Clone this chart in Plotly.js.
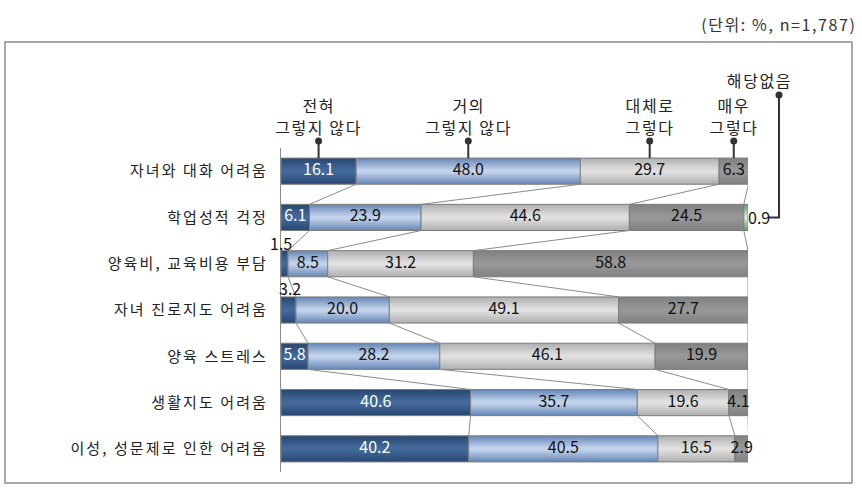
<!DOCTYPE html>
<html><head><meta charset="utf-8">
<script src="https://cdn.plot.ly/plotly-3.0.1.min.js"></script>
<style>
html,body{margin:0;padding:0;background:#fff}
#chart{width:862px;height:496px}
#chart .ytick text{letter-spacing:2.1px}
#chart .annotation-text{letter-spacing:1.6px}
#chart .annotation[data-index="0"] .annotation-text,
#chart .annotation[data-index="1"] .annotation-text,
#chart .annotation[data-index="2"] .annotation-text{letter-spacing:0}
</style>
</head><body><div id="chart"></div>
<script>
// ---- data ----
const categories = ['자녀와 대화 어려움','학업성적 걱정','양육비, 교육비용 부담','자녀 진로지도 어려움','양육 스트레스','생활지도 어려움','이성, 성문제로 인한 어려움'];
const headerLabels = [['전혀','그렇지 않다'],['거의','그렇지 않다'],['대체로','그렇다'],['매우','그렇다'],['해당없음']];
const notAtAll      = [16.1, 6.1, 1.5, 3.2, 5.8, 40.6, 40.2];
const rarely        = [48.0, 23.9, 8.5, 20.0, 28.2, 35.7, 40.5];
const mostly        = [29.7, 44.6, 31.2, 49.1, 46.1, 19.6, 16.5];
const very          = [6.3, 24.5, 58.8, 27.7, 19.9, 4.1, 2.9];
const notApplicable = [0, 0.9, 0, 0, 0, 0, 0];
const unitLabel = '(단위: %, n=1,787)';

// ---- build ----
const FONT = '"Noto Sans CJK KR", sans-serif';
const series = [notAtAll, rarely, mostly, very, notApplicable];
const ys = categories.map((_, i) => i);
const BW = 0.565;
const palette = [
  {edge:'#2b4a74', center:'#43699b', text:'#ffffff'},
  {edge:'#6c8bb9', center:'#c2d2ea', text:'#111111'},
  {edge:'#b2b2b2', center:'#e0e0e0', text:'#111111'},
  {edge:'#828282', center:'#979797', text:'#111111'},
  {edge:'#5aa865', center:'#d4f0d4', text:'#111111'}
];
const bases = series.map((s, k) => s.map((_, i) => series.slice(0, k).reduce((a, t) => a + t[i], 0)));
function hex2rgb(h){return [1,3,5].map(j=>parseInt(h.substr(j,2),16));}
function mix(a,b,t){const A=hex2rgb(a),B=hex2rgb(b);return 'rgb('+A.map((v,j)=>Math.round(v+(B[j]-v)*t)).join(',')+')';}

const traces = [];
// connector lines between adjacent bars
const cx = [], cy = [];
for (let i = 0; i < categories.length - 1; i++) {
  for (let k = 1; k <= 4; k++) {
    cx.push(bases[k][i], bases[k][i+1], null);
    cy.push(i + BW/2, i + 1 - BW/2, null);
  }
}
traces.push({type:'scatter', mode:'lines', x:cx, y:cy, line:{color:'#8a8a8a', width:1}, hoverinfo:'skip', showlegend:false});

const NL = 7;
series.forEach((vals, k) => {
  const v = vals.map(x => x > 0 ? x : null);
  for (let l = 0; l < NL; l++) {
    const t = l / (NL - 1);
    traces.push({type:'bar', orientation:'h', x:v, base:bases[k], y:ys, width:BW*(1-0.85*t),
      marker:{color:mix(palette[k].edge, palette[k].center, t), line:{width:0}}, hoverinfo:'skip', showlegend:false});
  }
  traces.push({type:'bar', orientation:'h', x:v, base:bases[k], y:ys, width:BW,
    marker:{color:'rgba(0,0,0,0)', line:{color:'#7c7c7c', width:1}}, hoverinfo:'skip', showlegend:false});
});

// labels
const outsideLabels = [[0,2],[0,3],[4,1]];
const isOutside = (k,i) => outsideLabels.some(p => p[0]===k && p[1]===i);
series.forEach((vals, k) => {
  const xs = [], yy = [], tx = [];
  vals.forEach((v, i) => {
    if (v > 0 && !isOutside(k, i)) { xs.push(bases[k][i] + v/2); yy.push(i); tx.push(v.toFixed(1)); }
  });
  traces.push({type:'scatter', mode:'text', x:xs, y:yy, text:tx, cliponaxis:false,
    textfont:{family:FONT, size:16, color:palette[k].text}, hoverinfo:'skip', showlegend:false});
});

const annotations = [];
const numFont = {family:FONT, size:16, color:'#111'};
// small values drawn outside the bars
annotations.push({xref:'x', yref:'y', x:bases[0][2] + notAtAll[2]/2, y:1.5, xanchor:'center', yanchor:'middle', yshift:-2, xshift:-4, text:notAtAll[2].toFixed(1), showarrow:false, font:numFont});
annotations.push({xref:'x', yref:'y', x:bases[0][3] + notAtAll[3]/2, y:2.5, xanchor:'center', yanchor:'middle', yshift:-1, xshift:2, text:notAtAll[3].toFixed(1), showarrow:false, font:numFont});
annotations.push({xref:'x', yref:'y', x:bases[4][1] + notApplicable[1], y:1, xanchor:'left', yanchor:'middle', xshift:-2, text:notApplicable[1].toFixed(1), showarrow:false, font:numFont});

const shapes = [];
// outer frame
shapes.push({type:'rect', xref:'paper', yref:'paper', x0:-0.591, x1:1.2227, y0:-0.034, y1:1.327, line:{color:'#8c8c8c', width:1.5}, layer:'below'});
// series name callouts above the first row
const hdrFont = {family:FONT, size:16, color:'#222'};
for (let k = 0; k < 4; k++) {
  const xc = bases[k][0] + series[k][0]/2;
  annotations.push({xref:'x', yref:'paper', x:xc, y:1.1327, xanchor:'center', yanchor:'middle', text:headerLabels[k][0], showarrow:false, font:hdrFont});
  annotations.push({xref:'x', yref:'paper', x:xc, y:1.0648, xanchor:'center', yanchor:'middle', text:headerLabels[k][1], showarrow:false, font:hdrFont});
  shapes.push({type:'line', xref:'x', yref:'paper', x0:xc, x1:xc, y0:(6.5 + BW/2)/7, y1:1.0216, line:{color:'#333', width:2}});
  shapes.push({type:'circle', xref:'x', yref:'paper', xsizemode:'pixel', ysizemode:'pixel', xanchor:xc, yanchor:1.0216, x0:-3.5, x1:3.5, y0:-3.5, y1:3.5, fillcolor:'#333', line:{width:0}});
}
// 해당없음 callout
annotations.push({xref:'paper', yref:'paper', x:1.0236, y:1.2099, xanchor:'center', yanchor:'middle', text:headerLabels[4][0], showarrow:false, font:hdrFont});
shapes.push({type:'path', xref:'paper', yref:'paper', path:'M 1.0450 0.7857 L 1.0664 0.7857 L 1.0664 1.1636', line:{color:'#333', width:2}});
shapes.push({type:'circle', xref:'paper', yref:'paper', xsizemode:'pixel', ysizemode:'pixel', xanchor:1.0664, yanchor:1.1636, x0:-3.5, x1:3.5, y0:-3.5, y1:3.5, fillcolor:'#333', line:{width:0}});
// unit
annotations.push({xref:'paper', yref:'paper', x:1.2099, y:1.3827, xanchor:'right', yanchor:'middle', text:unitLabel, showarrow:false, font:{family:FONT, size:16, color:'#333'}});

const layout = {
  width:862, height:496,
  margin:{l:281, r:114, t:148, b:24},
  paper_bgcolor:'#fff', plot_bgcolor:'#fff',
  barmode:'overlay',
  showlegend:false,
  font:{family:FONT},
  xaxis:{range:[0,100], visible:false, fixedrange:true},
  yaxis:{range:[6.5,-0.5], tickvals:ys, ticktext:categories, showline:true, linecolor:'#8c8c8c', linewidth:1,
    showgrid:false, zeroline:false, ticks:'', ticklabelstandoff:9, tickfont:{family:FONT, size:15, color:'#222'}, fixedrange:true},
  annotations:annotations,
  shapes:shapes
};
Plotly.newPlot('chart', traces, layout, {staticPlot:true, displayModeBar:false});
</script>
</body></html>
